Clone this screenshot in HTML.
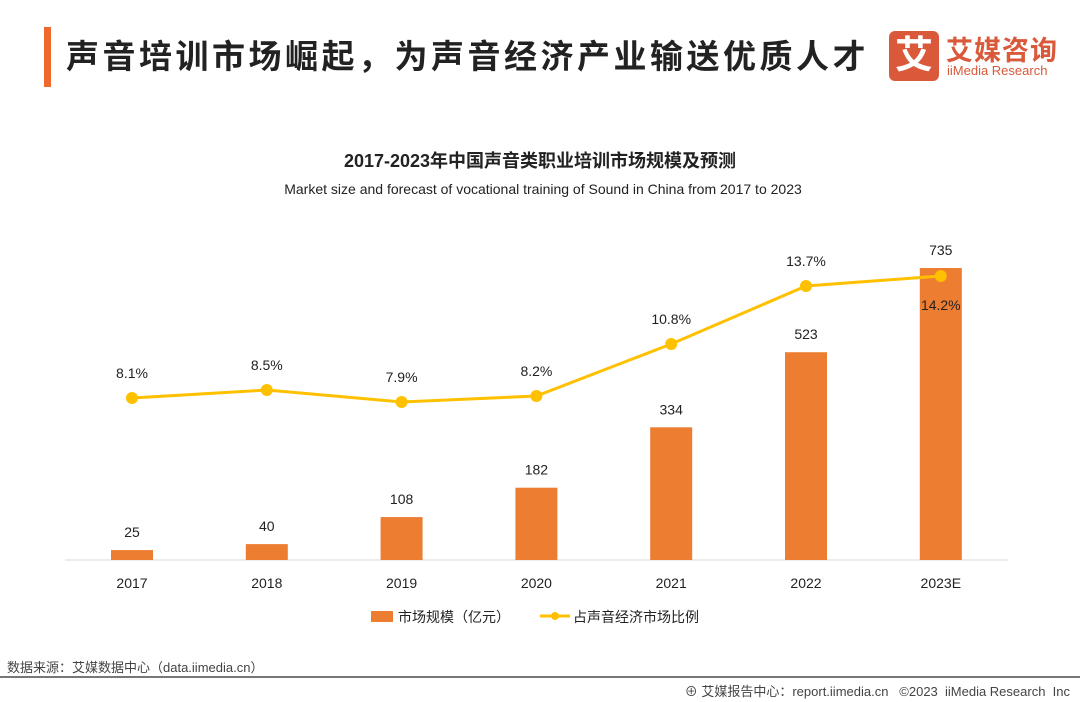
<!DOCTYPE html>
<html><head><meta charset="utf-8"><style>
body{margin:0;width:1080px;height:702px;background:#fff;overflow:hidden;position:relative;font-family:"Liberation Sans","Noto Sans CJK SC",sans-serif}
.abs{position:absolute}
</style></head><body>
<div class="abs" style="left:44px;top:27px;width:7px;height:60px;background:#ee6a2c"></div>
<div class="abs" style="left:66px;top:30px;font-size:33px;font-weight:bold;color:#222;letter-spacing:3.5px">声音培训市场崛起，为声音经济产业输送优质人才</div>
<div class="abs" style="left:889px;top:31px;width:50px;height:50px;background:#d9593a;border-radius:6px;color:#fff;font-size:38px;font-weight:bold;text-align:center;line-height:50px">艾</div>
<div class="abs" style="left:946px;top:29px;font-size:27px;font-weight:bold;color:#d9593a;letter-spacing:1px">艾媒咨询</div>
<div class="abs" style="left:947px;top:63px;font-size:13px;color:#d9593a">iiMedia Research</div>
<div class="abs" style="left:0;width:1080px;top:147px;text-align:center;font-size:18px;font-weight:bold;color:#222">2017-2023年中国声音类职业培训市场规模及预测</div>
<div class="abs" style="left:0;width:1086px;top:181px;text-align:center;font-size:14px;color:#222">Market size and forecast of vocational training of Sound in China from 2017 to 2023</div>
<svg class="abs" style="left:0;top:0" width="1080" height="702" id="chart"></svg>
<div class="abs" style="left:7px;top:657px;font-size:13px;color:#444">数据来源：艾媒数据中心（data.iimedia.cn）</div>
<div class="abs" style="left:0;top:676px;width:1080px;height:2px;background:#777"></div>
<div class="abs" style="right:10px;top:681px;font-size:13px;color:#444">⊕ 艾媒报告中心：report.iimedia.cn &nbsp; ©2023 &nbsp;iiMedia Research &nbsp;Inc</div>
<script>
const categories=["2017","2018","2019","2020","2021","2022","2023E"];
const marketSize=[25,40,108,182,334,523,735];
const sharePct=[8.1,8.5,7.9,8.2,10.8,13.7,14.2];
const svg=document.getElementById('chart');
const NS='http://www.w3.org/2000/svg';
const x0=132,dx=134.8,base=560;
const xPos=i=>x0+i*dx;
const yBar=v=>base-v*292/735;
const yLine=v=>base-v*20;
function mk(t,a){const e=document.createElementNS(NS,t);for(const k in a)e.setAttribute(k,a[k]);svg.appendChild(e);return e;}
const ax=mk('line',{x1:65,x2:1008,y1:base,y2:base,stroke:'#d9d9d9','stroke-width':1});


categories.forEach((c,i)=>{
 const x=xPos(i),v=marketSize[i];
 const r=mk('rect',{x:x-21,y:yBar(v),width:42,height:base-yBar(v),fill:'#ed7d31'});
 
 
 const t=mk('text',{x:x,y:yBar(v)-13,'text-anchor':'middle','font-size':14,fill:'#222'});t.textContent=v;
 
 
 const l=mk('text',{x:x,y:588,'text-anchor':'middle','font-size':14,fill:'#222'});l.textContent=c;
 
 
});
const pl=mk('polyline',{points:sharePct.map((v,i)=>xPos(i)+','+yLine(v)).join(' '),fill:'none',stroke:'#ffc000','stroke-width':3});


sharePct.forEach((v,i)=>{
 const c=mk('circle',{cx:xPos(i),cy:yLine(v),r:6,fill:'#ffc000'});
 
 
 const last=i===sharePct.length-1;
 const t=mk('text',{x:xPos(i),y:last?yLine(v)+34:yLine(v)-20,'text-anchor':'middle','font-size':14,fill:'#222'});t.textContent=v.toFixed(1)+'%';
 
 
});
const lg1=mk('rect',{x:371,y:611,width:22,height:11,fill:'#ed7d31'});


const lt1=mk('text',{x:398,y:622,'font-size':14,fill:'#222'});lt1.textContent='市场规模（亿元）';


const lg2=mk('line',{x1:540,x2:570,y1:616,y2:616,stroke:'#ffc000','stroke-width':3});


const lc=mk('circle',{cx:555,cy:616,r:4,fill:'#ffc000'});


const lt2=mk('text',{x:573,y:622,'font-size':14,fill:'#222'});lt2.textContent='占声音经济市场比例';


</script>
</body></html>
